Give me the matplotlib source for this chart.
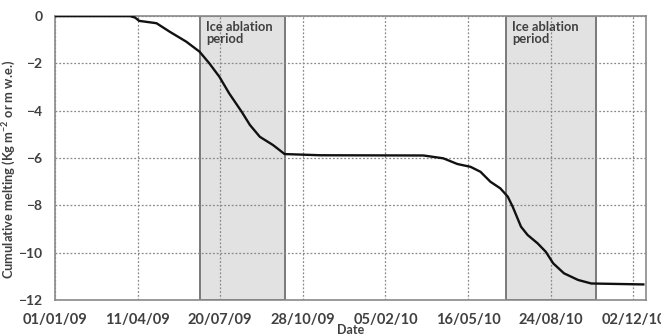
import numpy as np
import pandas as pd
import matplotlib
matplotlib.use('Agg')
import matplotlib.pyplot as plt
import matplotlib.dates as mdates

# Lecture approximative de la courbe cumulée
dates = [
    "2009-01-01", "2009-04-02", "2009-04-08", "2009-04-13", "2009-05-04",
    "2009-05-20", "2009-06-09", "2009-06-25", "2009-07-07", "2009-07-19",
    "2009-07-31", "2009-08-15", "2009-08-25", "2009-09-06", "2009-09-22",
    "2009-10-06", "2009-11-18", "2010-03-23", "2010-04-16", "2010-05-03",
    "2010-05-19", "2010-05-31", "2010-06-12", "2010-06-24", "2010-07-03",
    "2010-07-09", "2010-07-19", "2010-07-27", "2010-08-08", "2010-08-18",
    "2010-08-27", "2010-09-09", "2010-09-26", "2010-10-12", "2010-12-14",
]
melting = [
    0.0, 0.0, -0.06, -0.2, -0.3,
    -0.66, -1.08, -1.5, -2.0, -2.56,
    -3.27, -4.04, -4.6, -5.1, -5.45,
    -5.83, -5.88, -5.89, -6.01, -6.25,
    -6.37, -6.58, -7.0, -7.28, -7.63,
    -8.06, -8.9, -9.25, -9.6, -9.96,
    -10.45, -10.87, -11.15, -11.3, -11.34,
]

# Périodes d'ablation de la glace
ablation_periods = [("2009-06-26", "2009-10-07"), ("2010-07-01", "2010-10-18")]
ablation_label = "Ice ablation\nperiod"

x_start, x_end = "2009-01-01", "2010-12-17"
y_ticks = [0, -2, -4, -6, -8, -10, -12]

plt.rcParams['font.family'] = ['Lato', 'DejaVu Sans']
txt_color = "#404040"

fig = plt.figure(figsize=(6.61, 3.36), dpi=100)
ax = fig.add_axes([0.083, 0.107, 0.894, 0.845])

t = pd.to_datetime(dates)

for start, end in ablation_periods:
    ax.axvspan(pd.Timestamp(start), pd.Timestamp(end), ymin=0, ymax=1,
               facecolor="#e2e2e2", edgecolor="#7a7a7a", linewidth=1.4, zorder=1)
    ax.text(pd.Timestamp(start) + pd.Timedelta(days=7), -0.2, ablation_label,
            ha="left", va="top", fontsize=9.3, fontweight="bold",
            color=txt_color, zorder=4, linespacing=1.05)

ax.plot(t, melting, color="#111111", linewidth=1.7, zorder=3,
        solid_joinstyle="round")

# Graduations tous les 100 jours
tick_dates = pd.date_range(x_start, periods=8, freq="100D")
ax.set_xticks(tick_dates)
ax.xaxis.set_major_formatter(mdates.DateFormatter("%d/%m/%y"))
ax.set_xlim(pd.Timestamp(x_start), pd.Timestamp(x_end))
ax.set_ylim(-12, 0)
ax.set_yticks(y_ticks)

ax.grid(True, linestyle=(0, (1.5, 1.5)), color="#8a8a8a", linewidth=0.9, zorder=2)
ax.set_axisbelow(False)
for sp in ax.spines.values():
    sp.set_color("#8a8a8a")
    sp.set_linewidth(1.2)
ax.tick_params(length=0, labelcolor=txt_color)
ax.tick_params(axis="x", pad=9, labelsize=10.5)
ax.tick_params(axis="y", pad=9, labelsize=10)
for lab in ax.get_xticklabels() + ax.get_yticklabels():
    lab.set_fontweight("bold")

ax.set_xlabel("Date", fontsize=9, fontweight="bold", color=txt_color, labelpad=-2)
ax.set_ylabel("Cumulative melting (Kg m$^{\\mathregular{-2}}$ or m w.e.)",
              fontsize=9.3, fontweight="bold", color=txt_color)
ax.yaxis.set_label_coords(-0.063, 0.46)

fig.savefig("out.png", dpi=100)
